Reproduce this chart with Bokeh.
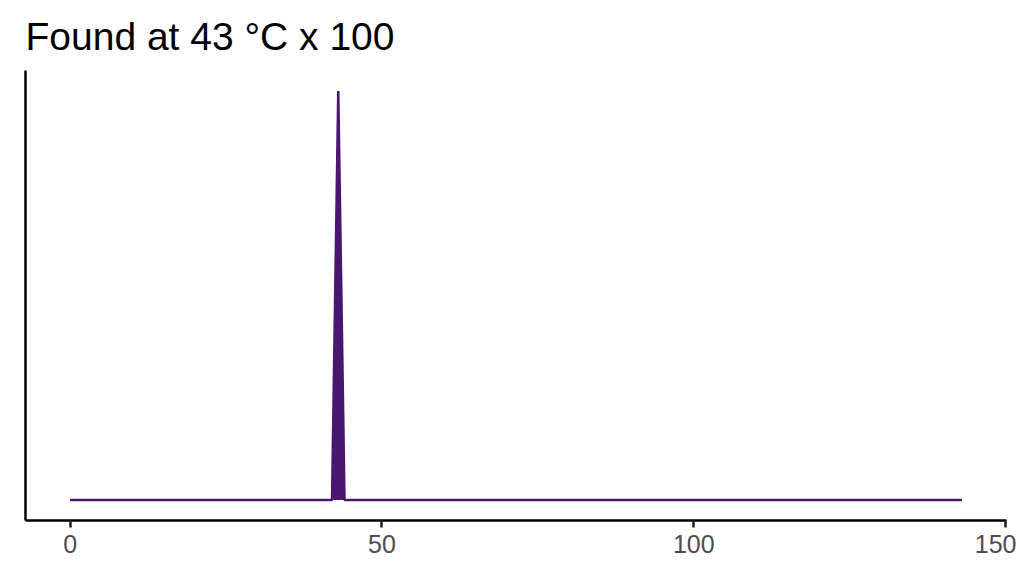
from bokeh.plotting import figure
from bokeh.models import Range1d, FixedTicker
from bokeh.embed import file_html
from bokeh.resources import INLINE

# Data: temperature steps 0..143, all zero except the peak at 43
x_vals = list(range(0, 144))
peak_x = 43
peak_val = 1.0
y_vals = [peak_val if xv == peak_x else 0.0 for xv in x_vals]
x_ticks = [0, 50, 100, 150]
title_text = "Found at 43 °C x 100"

p = figure(width=1016, height=568, output_backend="svg", toolbar_location=None,
           x_range=Range1d(-7.15, 150.15), y_range=Range1d(-0.05 * peak_val, 1.05 * peak_val),
           min_border_left=25, min_border_right=10, min_border_top=70, min_border_bottom=48)
p.title.text = title_text
p.title.text_font = "Liberation Sans"
p.title.text_font_size = "39px"
p.title.text_font_style = "normal"
p.title.text_color = "#000000"
p.title.offset = 0
p.title.vertical_align = "top"
p.title.standoff = 22

line_color = "#4a1670"
p.varea(x=x_vals, y1=[0.0] * len(x_vals), y2=y_vals, fill_color=line_color)
p.line(x_vals, y_vals, line_color=line_color, line_width=2.5)

p.outline_line_color = None
p.xgrid.grid_line_color = None
p.ygrid.grid_line_color = None
p.background_fill_color = "white"
p.border_fill_color = "white"

xa = p.xaxis[0]
xa.ticker = FixedTicker(ticks=x_ticks)
xa.axis_line_color = "black"
xa.axis_line_width = 2.5
xa.major_tick_line_color = "#222222"
xa.major_tick_line_width = 2.5
xa.major_tick_out = 7
xa.major_tick_in = 0
xa.minor_tick_line_color = None
xa.major_label_text_font = "Liberation Sans"
xa.major_label_text_font_size = "25px"
xa.major_label_text_color = "#4d4d4d"
xa.major_label_standoff = 7

ya = p.yaxis[0]
ya.ticker = FixedTicker(ticks=[])
ya.axis_line_color = "black"
ya.axis_line_width = 2.5
ya.major_tick_line_color = None
ya.minor_tick_line_color = None
ya.major_label_text_font_size = "0px"

open("out.html", "w").write(file_html(p, INLINE))
